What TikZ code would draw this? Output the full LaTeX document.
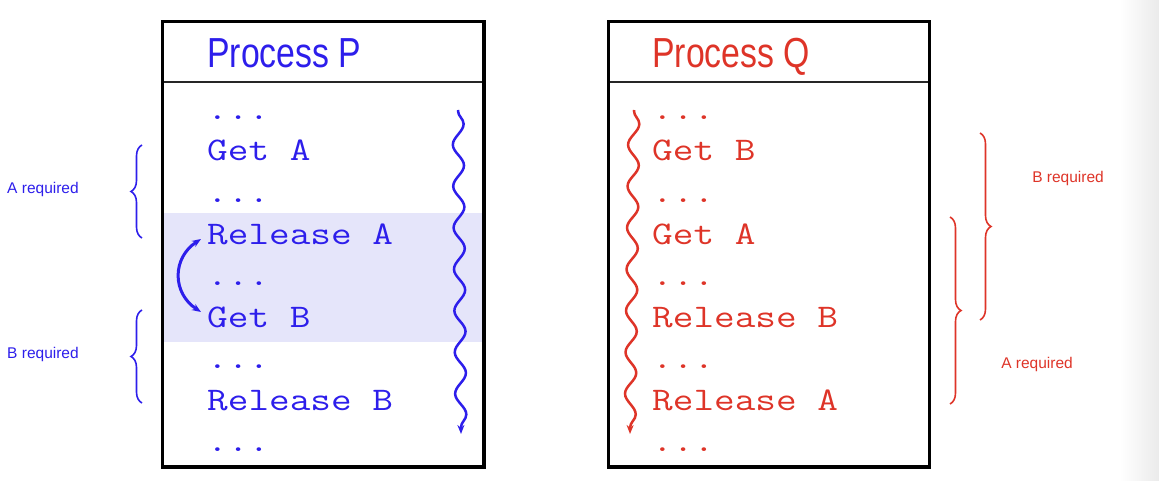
\documentclass[tikz,border=0pt]{standalone}
\usepackage{fontspec}
\setmainfont{Liberation Sans}
\newfontfamily\codefont[FakeStretch=1.215]{Latin Modern Mono}
\newfontfamily\titlefont[FakeStretch=0.805]{Liberation Sans}
\usetikzlibrary{decorations.pathmorphing,decorations.pathreplacing,arrows.meta}
\definecolor{pblue}{RGB}{45,30,235}
\definecolor{qred}{RGB}{222,52,40}
\definecolor{band}{RGB}{229,229,250}
\tikzset{
  codeline/.style={anchor=base west, inner sep=0pt, font=\codefont\fontsize{33}{40}\selectfont},
  title/.style={anchor=base west, inner sep=0pt, font=\titlefont\fontsize{42}{48}\selectfont},
  req/.style={anchor=center, inner sep=0pt, font=\fontsize{15.5}{18}\selectfont},
  procbox/.style={draw=black, line width=3.5pt},
  headline/.style={draw=black!85, line width=1.5pt},
  wavy/.style={line width=2.5pt, decorate, decoration={snake, segment length=41.5pt, amplitude=5.5pt, pre length=1pt, post length=6pt}, -{Stealth[length=9pt,width=7pt]}},
  bracepath/.style={line width=1.6pt, decorate, decoration={brace, amplitude=#1}},
}
\begin{document}
\begin{tikzpicture}[x=1pt,y=-1pt]
\useasboundingbox (0,0) rectangle (1159,481);
\shade[left color=white, right color=black!8] (1120,0) rectangle (1159,481);

% shaded band in P
\fill[band] (164,213) rectangle (482,342);

% boxes
\draw[procbox] (162.5,21.5) rectangle (484,467);
\draw[headline] (164,82) -- (482,82);
\draw[procbox] (608.5,21.5) rectangle (929.5,467);
\draw[headline] (610,82) -- (928,82);

% titles
\node[title, text=pblue] (tp) at (207,68) {Process P};
\node[title, text=qred] (tq) at (652,68) {Process Q};

% Process P code
\begin{scope}[every node/.style={codeline, text=pblue}]
\node (p0) at (207,119.5) {...};
\node (p1) at (207,161) {Get A};
\node (p2) at (207,202.5) {...};
\node (p3) at (207,244) {Release A};
\node (p4) at (207,285.5) {...};
\node (p5) at (207,327) {Get B};
\node (p6) at (207,368.5) {...};
\node (p7) at (207,410) {Release B};
\node (p8) at (207,451.5) {...};
\end{scope}

% Process Q code
\begin{scope}[every node/.style={codeline, text=qred}]
\node (q0) at (652,119.5) {...};
\node (q1) at (652,161) {Get B};
\node (q2) at (652,202.5) {...};
\node (q3) at (652,244) {Get A};
\node (q4) at (652,285.5) {...};
\node (q5) at (652,327) {Release B};
\node (q6) at (652,368.5) {...};
\node (q7) at (652,410) {Release A};
\node (q8) at (652,451.5) {...};
\end{scope}

% wavy execution arrows
\coordinate (pw1) at (458,110);
\coordinate (pw2) at (461,434);
\draw[wavy, pblue] (pw1) -- (pw2);
\coordinate (qw1) at (634,110);
\coordinate (qw2) at (630,434);
\draw[wavy, qred] (qw1) -- (qw2);

% curved double arrow
\coordinate (ca) at (201,239);
\coordinate (cb) at (201,312);
\draw[pblue, line width=3pt, {Stealth[length=9pt,width=7pt]}-{Stealth[length=9pt,width=7pt]}] (ca) .. controls (172,258) and (172,293) .. (cb);

% left braces
\coordinate (ba1) at (142,238);
\coordinate (ba2) at (142,145);
\draw[bracepath=11pt, pblue] (ba1) -- (ba2);
\node[req, text=pblue] (la) at (43,189) {A required};
\coordinate (bb1) at (142,403);
\coordinate (bb2) at (142,310);
\draw[bracepath=11pt, pblue] (bb1) -- (bb2);
\node[req, text=pblue] (lb) at (43,354) {B required};

% right braces
\coordinate (rb1) at (980,133);
\coordinate (rb2) at (980,320);
\draw[bracepath=11pt, qred] (rb1) -- (rb2);
\node[req, text=qred] (lrb) at (1068,178) {B required};
\coordinate (ra1) at (950,217);
\coordinate (ra2) at (950,404);
\draw[bracepath=11pt, qred] (ra1) -- (ra2);
\node[req, text=qred] (lra) at (1037,364) {A required};
\end{tikzpicture}
\end{document}
